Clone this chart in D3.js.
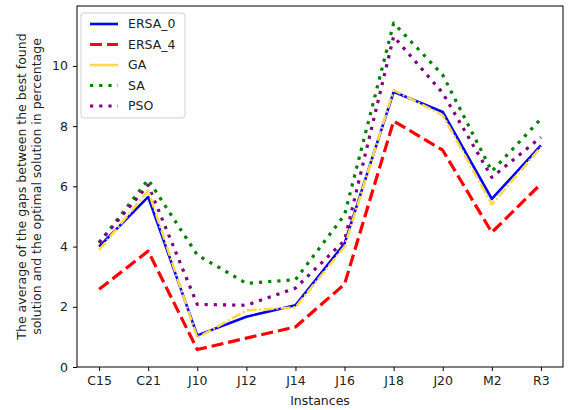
<!DOCTYPE html>
<html>
<head>
<meta charset="utf-8">
<script src="https://cdn.jsdelivr.net/npm/d3@7"></script>
<style>
  html, body { margin: 0; padding: 0; background: #fff; }
  svg { display: block; font-family: "DejaVu Sans", sans-serif; }
</style>
</head>
<body>
<svg id="chart" width="569" height="410"></svg>
<script>
// Instances on the x axis
const instances = ["C15", "C21", "J10", "J12", "J14", "J16", "J18", "J20", "M2", "R3"];

// Average gap (%) between best found and optimal solution, per algorithm
const ersa0 = [4.0, 5.65, 1.05, 1.67, 2.05, 4.1, 9.14, 8.47, 5.58, 7.36];
const ersa4 = [2.58, 3.85, 0.58, 0.96, 1.33, 2.75, 8.17, 7.2, 4.47, 6.08];
const ga    = [3.88, 5.86, 0.97, 1.88, 1.98, 4.0, 9.2, 8.36, 5.4, 7.3];
const sa    = [4.12, 6.22, 3.72, 2.78, 2.9, 5.05, 11.42, 9.7, 6.5, 8.24];
const pso   = [4.14, 6.04, 2.08, 2.05, 2.62, 4.2, 10.98, 9.1, 6.3, 7.63];

const yTicks = [0, 2, 4, 6, 8, 10];

const series = [
  { name: "ERSA_0", values: ersa0, color: "#0000ff", width: 2.6, dash: null,      legendDash: null },
  { name: "ERSA_4", values: ersa4, color: "#ff0000", width: 3.2, dash: "12,5",    legendDash: "12,5" },
  { name: "GA",     values: ga,    color: "#ffd94a", width: 2.6, dash: "10,2.5,2,2.5", legendDash: null },
  { name: "SA",     values: sa,    color: "#007f00", width: 3.2, dash: "3.2,6",   legendDash: "3.2,6" },
  { name: "PSO",    values: pso,   color: "#800080", width: 3.2, dash: "3.2,6",   legendDash: "3.2,6" }
];

// Draw order: GA goes over ERSA_0
const drawOrder = ["ERSA_0", "ERSA_4", "SA", "PSO", "GA"];

const svg = d3.select("#chart");
const plot = { left: 77, right: 563, top: 6, bottom: 367 };

const x = d3.scalePoint()
  .domain(instances)
  .range([plot.left, plot.right])
  .padding(0.45);

const y = d3.scaleLinear()
  .domain([0, 11.99])
  .range([plot.bottom, plot.top]);

const textColor = "#222";

// Axes
const xAxis = svg.append("g")
  .attr("transform", `translate(0,${plot.bottom})`)
  .call(d3.axisBottom(x).tickSize(4).tickPadding(5));
const yAxis = svg.append("g")
  .attr("transform", `translate(${plot.left},0)`)
  .call(d3.axisLeft(y).tickValues(yTicks).tickFormat(d3.format("d")).tickSize(4).tickPadding(5));

[xAxis, yAxis].forEach(g => {
  g.select(".domain").remove();
  g.selectAll("line").attr("stroke", "#000").attr("stroke-width", 1);
  g.selectAll("text").attr("fill", textColor).style("font-size", "12.5px")
    .style("font-family", "'DejaVu Sans', sans-serif");
});

// Lines
const line = d3.line()
  .x((d, i) => x(instances[i]))
  .y(d => y(d));

const byName = Object.fromEntries(series.map(s => [s.name, s]));
drawOrder.forEach(n => {
  const s = byName[n];
  svg.append("path")
    .datum(s.values)
    .attr("d", line)
    .attr("fill", "none")
    .attr("stroke", s.color)
    .attr("stroke-width", s.width)
    .attr("stroke-linejoin", "round")
    .attr("stroke-dasharray", s.dash);
});

// Frame
svg.append("rect")
  .attr("x", plot.left).attr("y", plot.top)
  .attr("width", plot.right - plot.left)
  .attr("height", plot.bottom - plot.top)
  .attr("fill", "none").attr("stroke", "#000").attr("stroke-width", 1);

// Axis titles
svg.append("text")
  .attr("x", (plot.left + plot.right) / 2)
  .attr("y", 405)
  .attr("text-anchor", "middle")
  .attr("fill", textColor)
  .style("font-size", "12.5px")
  .text("Instances");

const yLabel = svg.append("text")
  .attr("transform", `translate(26,${(plot.top + plot.bottom) / 2}) rotate(-90)`)
  .attr("text-anchor", "middle")
  .attr("fill", textColor)
  .style("font-size", "12.5px");
yLabel.append("tspan").attr("x", 0).attr("dy", 0)
  .text("The average of the gaps between the best found");
yLabel.append("tspan").attr("x", 0).attr("dy", 15)
  .text("solution and the optimal solution in percentage");

// Legend
const legend = svg.append("g").attr("transform", "translate(81,13)");
legend.append("rect")
  .attr("x", 0).attr("y", 0).attr("width", 104).attr("height", 105)
  .attr("rx", 3)
  .attr("fill", "#fff").attr("fill-opacity", 0.8)
  .attr("stroke", "#d0d0d0").attr("stroke-width", 1);

series.forEach((s, i) => {
  const cy = 11 + i * 20.5;
  legend.append("line")
    .attr("x1", 9).attr("x2", 37)
    .attr("y1", cy).attr("y2", cy)
    .attr("stroke", s.color)
    .attr("stroke-width", s.width)
    .attr("stroke-dasharray", s.legendDash);
  legend.append("text")
    .attr("x", 47).attr("y", cy)
    .attr("dy", "0.35em")
    .attr("fill", textColor)
    .style("font-size", "12.5px")
    .text(s.name);
});
</script>
</body>
</html>
